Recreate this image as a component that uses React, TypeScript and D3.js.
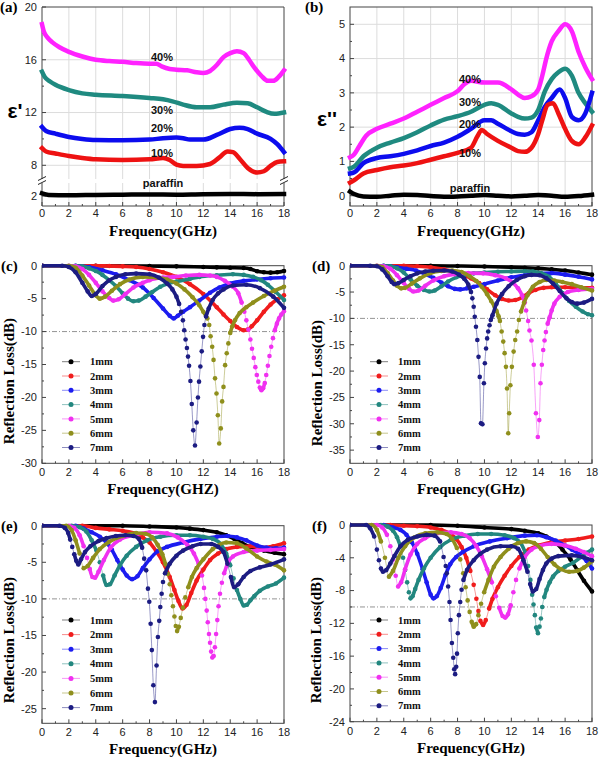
import React from 'react';
import * as d3 from 'd3';

type Pt = [number, number];

// ---------------- ticks & labels ----------------
const FREQ_TICKS = [0, 2, 4, 6, 8, 10, 12, 14, 16, 18];
const EPS1_TICKS_UPPER = [8, 12, 16, 20];
const EPS1_TICKS_LOWER = [2];
const EPS2_TICKS = [0, 1, 2, 3, 4, 5];
const RL_C_TICKS = [0, -5, -10, -15, -20, -25, -30];
const RL_D_TICKS = [0, -5, -10, -15, -20, -25, -30, -35];
const RL_E_TICKS = [0, -5, -10, -15, -20, -25];
const RL_F_TICKS = [0, -4, -8, -12, -16, -20, -24];
const CONTENT_LABELS = ['40%', '30%', '20%', '10%', 'paraffin'];
const THICKNESS_LABELS = ['1mm', '2mm', '3mm', '4mm', '5mm', '6mm', '7mm'];

// ---------------- (a) real permittivity ----------------
const eps1_40: Pt[] = [[0,18.7],[0.15,18.1],[0.4,17.7],[0.8,17.3],[1.3,16.95],[2,16.6],[3,16.25],[4,16.0],[5,15.9],[6,15.85],[7,15.75],[8,15.7],[8.5,15.7],[8.9,15.5],[9.5,15.3],[10,15.25],[10.8,15.2],[11.5,15.05],[12,15.0],[12.5,15.15],[13,15.6],[13.5,16.2],[14,16.5],[14.5,16.65],[15,16.5],[15.4,16.0],[15.8,15.4],[16.3,14.8],[16.8,14.4],[17.2,14.4],[17.6,14.7],[18,15.2]];
const eps1_30: Pt[] = [[0,15.1],[0.2,14.7],[0.6,14.35],[1,14.1],[2,13.7],[3,13.45],[4,13.35],[6,13.25],[8,13.1],[9,13.0],[9.7,12.85],[10.5,12.6],[11.5,12.4],[12.5,12.4],[13.5,12.6],[14.5,12.75],[15.3,12.7],[16,12.4],[16.7,12.05],[17.3,11.9],[18,12.0]];
const eps1_20: Pt[] = [[0,10.9],[0.3,10.6],[1,10.4],[2,10.15],[3,10.0],[4,9.92],[6,9.9],[8,9.95],[9,10.05],[10,10.1],[10.5,10.05],[11,9.95],[12,9.95],[13,10.3],[14,10.75],[14.7,10.85],[15.3,10.75],[16,10.4],[17,10.0],[17.5,9.6],[18,9.0]];
const eps1_10: Pt[] = [[0,9.3],[0.3,9.05],[1,8.9],[2,8.7],[3,8.55],[4,8.45],[6,8.4],[8,8.45],[9,8.55],[9.5,8.4],[10,8.05],[10.5,7.95],[11.5,7.95],[12.5,8.1],[13.2,8.6],[13.8,9.05],[14.2,9.0],[14.7,8.5],[15.3,7.8],[16,7.45],[16.5,7.55],[17,7.95],[17.5,8.25],[18,8.3]];
const eps1_paraffin: Pt[] = [[0,2.2],[0.5,2.08],[2,2.05],[4,2.08],[6,2.1],[8,2.12],[10,2.1],[12,2.14],[14,2.15],[16,2.14],[18,2.15]];

// ---------------- (b) imaginary permittivity ----------------
const eps2_40: Pt[] = [[0,1.12],[0.3,1.2],[0.7,1.45],[1.2,1.75],[2,1.95],[3,2.1],[4,2.25],[5,2.45],[6,2.65],[7,2.85],[8,3.05],[8.5,3.25],[9,3.35],[10,3.3],[11,3.3],[12,3.1],[12.5,2.95],[13,2.85],[13.5,2.9],[14,3.1],[14.3,3.5],[14.6,4.0],[15,4.5],[15.5,4.8],[16,5.0],[16.5,4.8],[17,4.2],[17.5,3.75],[18,3.4]];
const eps2_30: Pt[] = [[0,0.8],[0.3,0.85],[1,1.15],[2,1.4],[3,1.55],[4,1.68],[5,1.85],[6,2.05],[7,2.22],[8,2.32],[9,2.45],[10,2.65],[10.5,2.7],[11,2.65],[12,2.4],[12.5,2.3],[13,2.25],[13.5,2.28],[14,2.5],[14.5,3.05],[15,3.4],[15.5,3.6],[16,3.7],[16.5,3.5],[17,3.0],[17.5,2.7],[18,2.45]];
const eps2_20: Pt[] = [[0,0.65],[0.3,0.68],[1,0.95],[2,1.1],[3,1.15],[4,1.22],[5,1.32],[6,1.45],[7,1.55],[8,1.72],[9,1.95],[10,2.2],[10.5,2.2],[11,2.1],[12,1.88],[12.5,1.8],[13,1.78],[13.5,1.85],[14,2.2],[14.5,2.6],[15,2.85],[15.6,3.1],[16,2.85],[16.5,2.3],[17,2.2],[17.5,2.4],[18,3.0]];
const eps2_10: Pt[] = [[0,0.38],[0.3,0.45],[1,0.65],[2,0.75],[3,0.83],[4,0.88],[5,0.95],[6,1.05],[7,1.15],[8,1.25],[9,1.4],[9.5,1.75],[9.8,1.92],[10.2,1.8],[11,1.6],[12,1.4],[12.5,1.3],[13,1.28],[13.5,1.4],[14,1.8],[14.3,2.2],[14.7,2.65],[15.1,2.7],[15.5,2.4],[16,1.95],[16.5,1.6],[17,1.5],[17.5,1.7],[18,2.05]];
const eps2_paraffin: Pt[] = [[0,0.12],[0.3,0.05],[1,-0.02],[2,-0.03],[3,0.0],[4,0.03],[5,0.02],[6,-0.01],[7,-0.03],[8,-0.02],[9,0.0],[10,0.02],[11,0.0],[12,-0.02],[13,0.0],[14,0.02],[15,0.0],[16,-0.03],[17,-0.01],[18,0.03]];

// ---------------- (c) reflection loss ----------------
const c1: Pt[] = [[0,0],[4,0],[8,-0.05],[10,-0.1],[12,-0.2],[13,-0.25],[14,-0.3],[15,-0.35],[15.5,-0.5],[16,-0.85],[16.5,-1.0],[17,-1.05],[17.5,-1.0],[18,-0.8]];
const c2: Pt[] = [[0,0],[4,0],[5,-0.05],[6,-0.1],[7,-0.2],[8,-0.5],[9,-1.0],[10,-1.7],[11,-2.8],[12,-4.3],[13,-6.3],[13.5,-7.4],[14,-8.4],[14.5,-9.3],[15,-9.8],[15.3,-9.7],[15.6,-9.2],[16,-8.3],[16.5,-7.0],[17,-5.9],[17.5,-5.1],[18,-4.5]];
const c3: Pt[] = [[0,0],[2.5,0],[3.5,-0.2],[4.5,-0.7],[5.5,-1.3],[6.5,-2.2],[7.5,-3.3],[8.3,-4.9],[9,-6.5],[9.5,-7.6],[9.8,-8.0],[10.1,-7.6],[10.5,-7.0],[11,-6.3],[11.7,-5.3],[12.5,-4.1],[13.2,-3.3],[14,-2.7],[15,-2.3],[16,-2.1],[17,-1.9],[18,-1.8]];
const c4: Pt[] = [[0,0],[2.5,0],[3,-0.1],[3.5,-0.4],[4,-0.8],[4.5,-1.4],[5,-2.2],[5.5,-3.1],[6,-4.2],[6.4,-5.0],[6.8,-5.4],[7.2,-5.3],[7.7,-4.7],[8.2,-4.0],[8.8,-3.2],[9.4,-2.7],[10,-2.4],[11,-2.0],[11.7,-1.7],[13,-1.45],[14.2,-1.3],[15,-1.4],[15.7,-1.7],[16.3,-2.2],[16.8,-2.9],[17.4,-4.0],[18,-5.2]];
const c5: Pt[] = [[0,0],[2,0],[2.5,-0.1],[3,-0.5],[3.5,-1.4],[4,-2.6],[4.5,-3.9],[5,-4.9],[5.3,-5.3],[5.7,-5.1],[6.2,-4.3],[6.8,-3.3],[7.5,-2.6],[8,-2.2],[9,-1.8],[9.75,-1.7],[10.7,-1.5],[11.7,-1.4],[12.5,-1.5],[13,-1.7],[13.6,-2.3],[14.2,-3.2],[14.6,-4.2],[14.85,-5.6],[15.05,-7.0],[15.2,-8.3],[15.35,-9.7],[15.5,-11.2],[15.62,-12.6],[15.75,-14.0],[15.87,-15.4],[15.98,-16.6],[16.09,-17.6],[16.2,-18.5],[16.32,-18.9],[16.45,-18.6],[16.57,-17.8],[16.68,-16.6],[16.8,-15.2],[16.92,-13.7],[17.05,-12.3],[17.18,-11.0],[17.32,-9.8],[17.47,-8.8],[17.63,-8.0],[17.8,-7.4],[18,-6.9]];
const c6: Pt[] = [[0,0],[2,0],[2.5,-0.3],[3,-1.5],[3.5,-3.0],[4,-4.5],[4.3,-5.0],[4.7,-4.7],[5.2,-3.8],[5.8,-2.8],[6.5,-2.1],[7.5,-1.7],[8.5,-1.8],[9.3,-2.1],[10,-2.7],[10.6,-3.6],[11.2,-4.8],[11.7,-6.0],[12.0,-7.0],[12.3,-8.0],[12.44,-9.0],[12.54,-10.7],[12.66,-12.3],[12.76,-14.3],[12.87,-17.1],[12.98,-19.4],[13.08,-22.7],[13.18,-27.0],[13.3,-24.7],[13.4,-20.6],[13.5,-18.4],[13.62,-15.1],[13.74,-13.3],[13.86,-11.8],[14.0,-10.2],[14.15,-9.2],[14.35,-8.3],[14.7,-7.2],[15.2,-6.3],[15.7,-5.6],[16.5,-4.6],[17.3,-3.8],[18,-3.2]];
const c7: Pt[] = [[0,0],[1.5,0],[2,-0.2],[2.5,-1.0],[3,-2.6],[3.4,-3.9],[3.7,-4.6],[4.0,-4.3],[4.5,-3.1],[5,-2.2],[5.5,-1.7],[6.2,-1.3],[7,-1.2],[8,-1.3],[8.7,-1.8],[9.3,-2.7],[9.7,-3.6],[10,-4.7],[10.2,-5.8],[10.35,-7.0],[10.48,-8.3],[10.58,-9.8],[10.68,-11.2],[10.78,-12.5],[10.86,-13.8],[10.94,-15.2],[11.04,-17.5],[11.14,-21.0],[11.25,-25.0],[11.38,-27.3],[11.5,-23.8],[11.6,-20.0],[11.68,-17.6],[11.78,-15.3],[11.88,-13.0],[11.98,-10.8],[12.08,-9.0],[12.2,-7.7],[12.4,-6.5],[12.7,-5.2],[13.1,-4.2],[13.5,-3.6],[14.2,-3.0],[15.2,-2.9],[16.2,-3.4],[17.2,-4.7],[18,-6.4]];

// ---------------- (d) reflection loss ----------------
const d1: Pt[] = [[0,0],[6,0],[8,-0.05],[10,-0.15],[12,-0.3],[13,-0.4],[14,-0.5],[15,-0.7],[16,-0.9],[17,-1.3],[18,-1.7]];
const d2: Pt[] = [[0,0],[4,0],[5,-0.1],[6,-0.3],[7,-0.7],[8,-1.3],[9,-2.4],[9.6,-3.3],[10.2,-4.5],[10.8,-5.6],[11.3,-6.3],[11.8,-6.6],[12.3,-6.5],[12.8,-6.0],[13.3,-5.2],[13.8,-4.6],[14.4,-4.2],[15,-4.1],[16,-4.1],[17,-4.2],[18,-4.2]];
const d3s: Pt[] = [[0,0],[2.5,0],[3,-0.1],[3.5,-0.3],[4.2,-0.6],[4.9,-0.9],[5.6,-1.6],[6.2,-2.3],[6.8,-3.2],[7.3,-3.9],[7.8,-4.4],[8.2,-4.5],[8.7,-4.3],[9.2,-4.0],[10,-3.5],[11,-2.8],[12,-2.2],[13,-1.8],[14,-1.5],[15,-1.4],[16,-1.7],[17,-2.1],[18,-2.6]];
const d4: Pt[] = [[0,0],[2.5,0],[3,-0.1],[3.5,-0.5],[4,-1.3],[4.5,-2.6],[5,-3.8],[5.5,-4.6],[5.9,-4.9],[6.3,-4.7],[6.8,-3.9],[7.3,-3.0],[7.9,-2.2],[8.5,-1.7],[9.2,-1.45],[10,-1.3],[11,-1.15],[12,-1.1],[13,-1.05],[13.6,-1.1],[14.2,-1.4],[14.8,-2.1],[15.3,-3.4],[15.8,-5.2],[16.3,-6.7],[16.8,-7.8],[17.3,-8.7],[17.7,-9.2],[18,-9.4]];
const d5: Pt[] = [[0,0],[2,0],[2.5,-0.1],[3,-0.6],[3.5,-1.8],[4,-3.3],[4.4,-4.4],[4.7,-4.9],[5.1,-4.7],[5.6,-3.8],[6.2,-2.8],[7,-2.0],[7.8,-1.6],[8.8,-1.4],[9.9,-1.45],[10.8,-1.8],[11.6,-2.4],[12.1,-3.2],[12.5,-4.3],[12.8,-5.6],[13.0,-7.0],[13.1,-8.5],[13.25,-10.5],[13.35,-12.3],[13.5,-14.2],[13.67,-18.8],[13.83,-28.0],[13.97,-32.5],[14.08,-29.3],[14.17,-22.3],[14.27,-18.8],[14.37,-16.0],[14.47,-14.2],[14.57,-12.6],[14.7,-11.0],[14.85,-9.8],[15.0,-8.5],[15.2,-7.2],[15.6,-5.9],[16.2,-5.0],[17,-4.6],[18,-4.4]];
const d6: Pt[] = [[0,0],[2,0],[2.4,-0.3],[2.8,-1.4],[3.2,-2.8],[3.5,-3.8],[3.8,-4.3],[4.1,-4.2],[4.6,-3.4],[5.2,-2.4],[6,-1.4],[6.8,-1.0],[7.6,-0.9],[8.3,-1.2],[8.9,-2.0],[9.4,-2.9],[9.8,-4.0],[10.2,-5.4],[10.5,-6.7],[10.75,-7.8],[10.9,-8.6],[11.05,-9.6],[11.15,-10.5],[11.28,-12.5],[11.4,-14.4],[11.5,-16.6],[11.6,-19.2],[11.68,-23.3],[11.77,-31.8],[11.84,-28.0],[11.93,-22.7],[12.04,-19.2],[12.17,-16.3],[12.29,-14.1],[12.43,-12.5],[12.56,-10.3],[12.72,-8.7],[12.95,-7.0],[13.2,-5.6],[13.6,-4.0],[14.1,-3.1],[14.6,-2.7],[15.2,-2.8],[15.8,-3.1],[16.5,-3.5],[17.2,-4.1],[18,-4.7]];
const d7: Pt[] = [[0,0],[1.5,0],[2,-0.1],[2.4,-0.7],[2.8,-2.0],[3.1,-3.1],[3.3,-3.5],[3.6,-3.3],[4,-2.7],[4.5,-2.0],[5,-1.45],[5.6,-1.1],[6.2,-0.95],[7,-0.9],[7.6,-1.1],[8.1,-1.7],[8.5,-2.5],[8.8,-3.6],[9.0,-5.0],[9.1,-6.2],[9.2,-7.8],[9.28,-9.7],[9.37,-11.6],[9.47,-14.1],[9.56,-17.3],[9.65,-21.1],[9.74,-29.9],[9.85,-30.1],[9.96,-22.3],[10.03,-18.5],[10.12,-15.7],[10.2,-13.8],[10.28,-12.5],[10.38,-11.3],[10.47,-10.3],[10.6,-9.4],[10.9,-7.2],[11.3,-5.4],[11.8,-3.9],[12.4,-2.7],[13.0,-2.0],[13.5,-1.75],[14.1,-1.8],[14.6,-2.4],[15.1,-3.4],[15.6,-4.8],[16.1,-6.2],[16.5,-6.9],[16.9,-7.2],[17.4,-7.0],[18,-6.3]];

// ---------------- (e) reflection loss ----------------
const e1: Pt[] = [[0,0],[6,0],[8,-0.1],[10,-0.25],[11,-0.4],[12,-0.6],[13,-0.9],[13.7,-1.3],[14.3,-1.8],[14.9,-2.4],[15.5,-2.9],[16.5,-3.4],[17.3,-3.7],[18,-3.9]];
const e2: Pt[] = [[0,0],[3,0],[4,-0.3],[5,-0.5],[6,-0.7],[7,-1.1],[7.5,-1.6],[8,-2.3],[8.5,-3.5],[9,-5.0],[9.5,-7.0],[9.85,-8.8],[10.15,-10.3],[10.45,-11.3],[10.75,-10.8],[11.1,-9.2],[11.5,-7.5],[12,-6.0],[12.5,-4.7],[13.1,-3.8],[13.7,-3.2],[14.5,-2.9],[15.5,-2.8],[16.3,-3.0],[17.2,-2.8],[18,-2.4]];
const e3: Pt[] = [[0,0],[2.5,0],[3.1,-0.4],[3.7,-0.9],[4.3,-1.5],[4.8,-2.3],[5.2,-3.3],[5.6,-4.7],[6.0,-6.0],[6.3,-6.8],[6.7,-7.3],[7.1,-6.9],[7.5,-5.8],[8.0,-4.6],[8.6,-3.5],[9.3,-2.9],[10.5,-2.3],[11.8,-1.8],[13,-1.5],[13.8,-1.4],[14.5,-1.6],[15.2,-2.0],[16,-2.7],[16.7,-3.0],[17.4,-3.1],[18,-3.0]];
const e4: Pt[] = [[0,0],[2.2,0],[2.8,-0.2],[3.3,-0.8],[3.7,-2.0],[4.05,-3.4],[4.3,-5.0],[4.55,-6.8],[4.8,-8.1],[5.05,-8.0],[5.4,-6.8],[5.8,-5.4],[6.3,-4.1],[7,-2.9],[7.8,-2.0],[8.8,-1.5],[10,-1.3],[11,-1.3],[12,-1.5],[12.7,-1.8],[13.3,-2.5],[13.7,-3.8],[14.0,-5.4],[14.25,-7.2],[14.5,-8.8],[14.75,-10.0],[15.0,-10.9],[15.25,-10.8],[15.5,-10.2],[15.8,-9.6],[16.2,-8.9],[16.8,-8.3],[17.4,-7.9],[18,-7.1]];
const e5: Pt[] = [[0,0],[2,0],[2.4,-0.3],[2.8,-1.3],[3.1,-2.8],[3.35,-4.4],[3.55,-5.9],[3.75,-7.0],[3.95,-7.1],[4.2,-6.3],[4.6,-4.7],[5.1,-3.0],[5.8,-1.9],[6.8,-1.3],[8,-0.9],[9.3,-1.05],[10.1,-1.6],[10.8,-2.6],[11.3,-3.8],[11.65,-5.2],[11.9,-6.8],[12.05,-8.5],[12.15,-10.0],[12.25,-11.6],[12.33,-13.2],[12.42,-14.8],[12.5,-16.0],[12.58,-17.2],[12.67,-18.0],[12.77,-17.8],[12.86,-16.6],[12.95,-14.8],[13.04,-12.9],[13.13,-11.0],[13.24,-9.3],[13.38,-7.8],[13.55,-6.5],[13.8,-5.2],[14.2,-4.2],[15,-3.6],[16,-3.4],[17,-3.3],[18,-3.2]];
const e6: Pt[] = [[0,0],[1.8,0],[2.2,-0.6],[2.5,-2.0],[2.8,-3.8],[3.1,-5.8],[3.4,-5.5],[3.8,-4.4],[4.3,-3.2],[5,-2.2],[6,-1.4],[7,-1.0],[7.7,-1.1],[8.2,-1.6],[8.6,-2.6],[8.95,-3.9],[9.2,-5.3],[9.35,-6.6],[9.5,-8.0],[9.62,-9.5],[9.74,-11.0],[9.85,-12.4],[9.95,-13.7],[10.05,-14.4],[10.18,-13.8],[10.32,-12.6],[10.48,-11.2],[10.66,-9.8],[10.88,-8.4],[11.15,-7.0],[11.5,-5.8],[12,-4.6],[12.7,-3.2],[13.7,-2.3],[14.5,-2.4],[15.2,-3.1],[16,-4.2],[16.7,-4.9],[17.3,-5.3],[18,-6.1]];
const e7: Pt[] = [[0,0],[1.3,0],[1.7,-0.3],[1.95,-1.0],[2.1,-1.9],[2.25,-2.9],[2.4,-3.9],[2.55,-4.8],[2.7,-5.3],[2.9,-4.6],[3.2,-3.6],[3.6,-2.8],[4.2,-2.1],[4.8,-1.7],[5.5,-1.4],[6.2,-1.3],[6.8,-1.4],[7.2,-1.8],[7.45,-3.0],[7.6,-4.5],[7.75,-6.1],[7.88,-8.6],[7.98,-10.4],[8.08,-13.4],[8.17,-17.0],[8.28,-21.8],[8.4,-24.1],[8.52,-19.1],[8.62,-15.2],[8.72,-13.0],[8.8,-11.1],[8.9,-9.3],[9.0,-7.7],[9.15,-6.5],[9.5,-5.2],[10,-4.1],[10.5,-3.4],[11.2,-2.8],[11.8,-2.5],[12.6,-2.5],[13.1,-2.9],[13.5,-3.6],[13.8,-5.2],[14.05,-7.0],[14.3,-8.4],[14.6,-8.0],[15,-7.0],[15.5,-6.2],[16.2,-5.7],[17,-5.3],[18,-4.6]];

// ---------------- (f) reflection loss ----------------
const f1: Pt[] = [[0,0],[6,0],[8,-0.1],[10,-0.3],[12,-0.5],[13,-0.7],[14,-1.0],[14.6,-1.4],[15.2,-2.0],[15.8,-3.0],[16.4,-4.2],[16.9,-5.5],[17.4,-6.8],[18,-8.1]];
const f2: Pt[] = [[0,0],[3,0],[4,-0.1],[5,-0.15],[6,-0.3],[6.8,-0.6],[7.4,-1.0],[7.9,-1.7],[8.3,-2.7],[8.65,-4.0],[8.95,-5.6],[9.2,-7.3],[9.4,-9.0],[9.55,-10.5],[9.7,-11.7],[9.9,-12.2],[10.1,-11.6],[10.35,-10.2],[10.6,-9.0],[11,-7.6],[11.5,-6.2],[12,-5.0],[12.6,-3.9],[13.3,-3.0],[14,-2.5],[15,-2.1],[16,-1.9],[17,-1.7],[18,-1.4]];
const f3: Pt[] = [[0,0],[2.5,0],[3.2,-0.3],[3.75,-0.6],[4.2,-1.2],[4.6,-2.1],[5.0,-3.5],[5.4,-5.4],[5.7,-7.0],[6.0,-8.5],[6.2,-8.95],[6.45,-8.7],[6.75,-7.7],[7.1,-6.1],[7.45,-4.8],[7.9,-3.9],[8.4,-3.3],[9.2,-2.6],[10.4,-2.0],[11.7,-1.6],[13,-1.3],[13.9,-1.25],[14.6,-1.5],[15.3,-1.9],[16,-2.5],[16.5,-3.0],[17.1,-3.6],[17.6,-4.4],[18,-5.3]];
const f4: Pt[] = [[0,0],[2.3,0],[2.8,-0.2],[3.2,-0.7],[3.5,-1.5],[3.75,-2.6],[3.95,-4.0],[4.1,-5.5],[4.25,-7.0],[4.38,-8.2],[4.5,-8.95],[4.65,-8.7],[4.85,-7.8],[5.1,-6.7],[5.5,-5.3],[6,-4.0],[6.7,-2.7],[7.5,-1.8],[8.5,-1.3],[9.5,-1.1],[10.5,-1.1],[11.5,-1.25],[12.2,-1.6],[12.7,-2.2],[13.05,-3.4],[13.25,-5.0],[13.42,-6.7],[13.55,-8.5],[13.65,-9.7],[13.75,-11.0],[13.85,-12.5],[13.98,-13.2],[14.1,-12.4],[14.2,-11.4],[14.3,-10.0],[14.45,-8.8],[14.62,-7.9],[14.85,-7.0],[15.1,-6.3],[15.5,-5.6],[16,-5.1],[16.6,-4.6],[17.2,-3.9],[17.6,-3.4],[18,-3.0]];
const f5: Pt[] = [[0,0],[2,0],[2.4,-0.3],[2.75,-1.2],[3.0,-2.6],[3.2,-4.2],[3.4,-6.2],[3.58,-7.5],[3.8,-7.0],[4.1,-5.4],[4.5,-3.6],[5,-2.3],[5.6,-1.6],[6.5,-1.0],[7.5,-0.9],[8.3,-1.1],[8.9,-1.6],[9.4,-2.6],[9.8,-3.8],[10.2,-5.4],[10.55,-7.0],[10.85,-8.7],[11.1,-10.1],[11.35,-11.1],[11.55,-11.3],[11.75,-10.9],[11.95,-9.8],[12.15,-8.2],[12.35,-6.7],[12.6,-5.3],[13,-3.9],[13.5,-3.0],[14,-2.6],[15,-2.3],[16,-2.5],[16.8,-2.9],[17.4,-3.3],[18,-3.8]];
const f6: Pt[] = [[0,0],[1.6,0],[2.0,-0.6],[2.3,-2.0],[2.6,-4.0],[2.9,-6.3],[3.2,-5.6],[3.6,-4.0],[4.1,-2.6],[4.8,-1.5],[5.6,-1.0],[6.5,-0.9],[7.2,-1.1],[7.6,-1.7],[7.95,-2.8],[8.2,-4.2],[8.42,-5.9],[8.6,-7.6],[8.75,-9.2],[8.9,-10.6],[9.05,-11.8],[9.2,-12.4],[9.38,-12.1],[9.55,-11.0],[9.75,-9.6],[9.98,-8.2],[10.3,-6.7],[10.7,-5.1],[11.2,-3.9],[11.8,-2.9],[12.5,-2.2],[13.1,-2.0],[13.7,-2.2],[14.2,-2.9],[14.7,-3.9],[15.2,-4.8],[15.7,-5.4],[16.3,-5.7],[16.9,-5.6],[17.4,-5.2],[18,-4.4]];
const f7: Pt[] = [[0,0],[1.2,0],[1.5,-0.4],[1.8,-1.4],[2.0,-3.0],[2.15,-4.3],[2.3,-5.3],[2.45,-5.7],[2.7,-5.5],[3.0,-4.7],[3.3,-3.8],[3.75,-2.6],[4.3,-1.8],[5,-1.4],[5.7,-1.2],[6.3,-1.3],[6.7,-2.0],[6.96,-3.9],[7.12,-5.0],[7.2,-5.9],[7.3,-7.5],[7.4,-9.4],[7.48,-11.6],[7.58,-14.4],[7.68,-16.2],[7.75,-17.6],[7.82,-18.2],[7.9,-17.3],[7.96,-15.7],[8.02,-13.2],[8.1,-11.0],[8.2,-9.4],[8.3,-7.9],[8.44,-6.7],[8.7,-5.5],[9.2,-4.3],[9.7,-3.5],[10.2,-3.0],[11.2,-2.6],[12.0,-2.6],[12.5,-2.9],[12.9,-4.3],[13.2,-5.7],[13.4,-7.2],[13.6,-8.1],[13.85,-7.8],[14.1,-6.6],[14.35,-5.5],[14.6,-4.7],[15.0,-4.1],[15.5,-3.8],[16.5,-3.7],[17.3,-3.9],[18,-4.3]];

// ---------------- styling ----------------
const EPS_COLORS = ['#ff22ff', '#1f8a80', '#0c0cee', '#ee1212', '#000000'];
const RL_COLORS = ['#000000', '#f01c1c', '#1c1cf0', '#22877f', '#f030f0', '#8f8f1c', '#1c1c82'];
const SERIF = "'Liberation Serif','Times New Roman',serif";
const SANS = "'Liberation Sans',Arial,sans-serif";
const AXIS = '#444';
const TICK_TXT = '#222';

const line = d3.line<[number, number]>().curve(d3.curveMonotoneX);

function Ticks({ x, y, x0, x1, y0, y1, yTicks, yMinor, xLabelY }: any) {
  const xMinor = d3.range(1, 18, 2);
  return (
    <g>
      {FREQ_TICKS.map((t) => (
        <g key={'x' + t}>
          <line x1={x(t)} x2={x(t)} y1={y1} y2={y1 - 4} stroke={AXIS} />
          <text x={x(t)} y={xLabelY} textAnchor="middle" fontFamily={SANS} fontSize={11} fill={TICK_TXT}>{t}</text>
        </g>
      ))}
      {xMinor.map((t: number) => (
        <line key={'xm' + t} x1={x(t)} x2={x(t)} y1={y1} y2={y1 - 2} stroke={AXIS} />
      ))}
      {yTicks.map((t: number) => (
        <g key={'y' + t}>
          <line x1={x0} x2={x0 + 4} y1={y(t)} y2={y(t)} stroke={AXIS} />
          <text x={x0 - 5} y={y(t)} dy="0.35em" textAnchor="end" fontFamily={SANS} fontSize={11} fill={TICK_TXT}>{t}</text>
        </g>
      ))}
      {(yMinor || []).map((t: number) => (
        <line key={'ym' + t} x1={x0} x2={x0 + 2} y1={y(t)} y2={y(t)} stroke={AXIS} />
      ))}
    </g>
  );
}

function PanelA() {
  const x0 = 42, x1 = 284, y0 = 7, y1 = 206;
  const x = d3.scaleLinear().domain([0, 18]).range([x0, x1]);
  const yUp = d3.scaleLinear().domain([20, 8]).range([y0, 165.3]);
  const yLow = d3.scaleLinear().domain([2, 1.25]).range([196, y1]);
  const y = (v: number) => (v > 5 ? yUp(v) : yLow(v));
  const series = [eps1_40, eps1_30, eps1_20, eps1_10, eps1_paraffin];
  const labelPos = [[162, 57], [162, 110], [162, 128], [162, 153], [163, 183]];
  const brk = [179, 183];
  return (
    <g>
      {FREQ_TICKS.slice(1, -1).map((t) => (
        <line key={'g' + t} x1={x(t)} x2={x(t)} y1={y0} y2={y1} stroke="#dcdcdc" />
      ))}
      {[16, 12, 8].map((t) => (
        <line key={'h' + t} x1={x0} x2={x1} y1={y(t)} y2={y(t)} stroke="#dcdcdc" />
      ))}
      <rect x={x0 - 6} y={brk[0]} width={x1 - x0 + 12} height={brk[1] - brk[0]} fill="#fff" />
      <line x1={x0} x2={x1} y1={y0} y2={y0} stroke={AXIS} />
      <line x1={x0} x2={x1} y1={y1} y2={y1} stroke={AXIS} />
      <line x1={x0} x2={x0} y1={y0} y2={brk[0]} stroke={AXIS} />
      <line x1={x0} x2={x0} y1={brk[1]} y2={y1} stroke={AXIS} />
      <line x1={x1} x2={x1} y1={y0} y2={brk[0]} stroke={AXIS} />
      <line x1={x1} x2={x1} y1={brk[1]} y2={y1} stroke={AXIS} />
      {[x0, x1].map((bx) => (
        <g key={'b' + bx}>
          <line x1={bx - 4} x2={bx + 4} y1={brk[0] + 1.5} y2={brk[0] - 2.5} stroke="#222" />
          <line x1={bx - 4} x2={bx + 4} y1={brk[1] + 1.5} y2={brk[1] - 2.5} stroke="#222" />
        </g>
      ))}
      <Ticks x={x} y={y} x0={x0} x1={x1} y0={y0} y1={y1} yTicks={[...EPS1_TICKS_UPPER, ...EPS1_TICKS_LOWER]} yMinor={[10, 14, 18]} xLabelY={217} />
      {series.map((s, i) => (
        <path key={i} d={line(s.map(([f, v]) => [x(f), y(v)]) as any) || ''} fill="none" stroke={EPS_COLORS[i]} strokeWidth={4.5} strokeLinejoin="round" strokeLinecap="square" />
      ))}
      {CONTENT_LABELS.map((l, i) => (
        <text key={l} x={labelPos[i][0]} y={labelPos[i][1]} dy="0.35em" textAnchor="middle" fontFamily={SANS} fontWeight="bold" fontSize={11} fill="#111">{l}</text>
      ))}
      <text x={15} y={118} textAnchor="middle" fontFamily={SANS} fontWeight="bold" fontSize={21} fill="#000">ε'</text>
      <text x={0} y={12} fontFamily={SERIF} fontWeight="bold" fontSize={15} fill="#000">(a)</text>
      <text x={(x0 + x1) / 2} y={236} textAnchor="middle" fontFamily={SERIF} fontWeight="bold" fontSize={15} fill="#000">Frequency(GHz)</text>
    </g>
  );
}

function PanelB() {
  const x0 = 350, x1 = 592, y0 = 7, y1 = 206;
  const x = d3.scaleLinear().domain([0, 18]).range([x0, x1]);
  const y = d3.scaleLinear().domain([0, 5]).range([195.7, 24.3]);
  const series = [eps2_40, eps2_30, eps2_20, eps2_10, eps2_paraffin];
  const labelPos = [[470, 79], [470, 102], [470, 124], [470, 153], [470, 188]];
  return (
    <g>
      {FREQ_TICKS.slice(1, -1).map((t) => (
        <line key={'g' + t} x1={x(t)} x2={x(t)} y1={y0} y2={y1} stroke="#dcdcdc" />
      ))}
      {EPS2_TICKS.map((t) => (
        <line key={'h' + t} x1={x0} x2={x1} y1={y(t)} y2={y(t)} stroke="#dcdcdc" />
      ))}
      <rect x={x0} y={y0} width={x1 - x0} height={y1 - y0} fill="none" stroke={AXIS} />
      <Ticks x={x} y={y} x0={x0} x1={x1} y0={y0} y1={y1} yTicks={EPS2_TICKS} yMinor={[0.5, 1.5, 2.5, 3.5, 4.5]} xLabelY={217} />
      {series.map((s, i) => (
        <path key={i} d={line(s.map(([f, v]) => [x(f), y(v)]) as any) || ''} fill="none" stroke={EPS_COLORS[i]} strokeWidth={4.5} strokeLinejoin="round" strokeLinecap="square" />
      ))}
      {CONTENT_LABELS.map((l, i) => (
        <text key={l} x={labelPos[i][0]} y={labelPos[i][1]} dy="0.35em" textAnchor="middle" fontFamily={SANS} fontWeight="bold" fontSize={11} fill="#111">{l}</text>
      ))}
      <text x={327} y={126} textAnchor="middle" fontFamily={SANS} fontWeight="bold" fontSize={21} fill="#000">ε''</text>
      <text x={305} y={12} fontFamily={SERIF} fontWeight="bold" fontSize={15} fill="#000">(b)</text>
      <text x={(x0 + x1) / 2} y={236} textAnchor="middle" fontFamily={SERIF} fontWeight="bold" fontSize={15} fill="#000">Frequency(GHz)</text>
    </g>
  );
}

function RLSeries({ pts, x, y, color }: any) {
  const px: [number, number][] = pts.map(([f, v]: Pt) => [x(f), y(v)]);
  const runs: [number, number][][] = [];
  let cur: [number, number][] = [px[0]];
  for (let i = 1; i < px.length; i++) {
    const dx = Math.abs(px[i][0] - px[i - 1][0]);
    const dy = Math.abs(px[i][1] - px[i - 1][1]);
    if (dy <= 3.2 * dx + 0.5) cur.push(px[i]);
    else {
      if (cur.length > 1) runs.push(cur);
      cur = [px[i]];
    }
  }
  if (cur.length > 1) runs.push(cur);
  return (
    <g>
      <path d={line(px) || ''} fill="none" stroke={color} strokeOpacity={0.45} strokeWidth={1} />
      {runs.map((r, i) => (
        <path key={i} d={line(r) || ''} fill="none" stroke={color} strokeWidth={3.6} strokeLinejoin="round" strokeLinecap="round" />
      ))}
      {px.map((p, i) => (
        <circle key={i} cx={p[0]} cy={p[1]} r={2.3} fill={color} />
      ))}
    </g>
  );
}

interface RLCfg {
  x0: number; x1: number; y0: number; y1: number; yMin: number;
  ticks: number[]; minorStep: number; series: Pt[][];
  label: string; labelX: number; labelY: number; xTitle: string;
  yTitleX: number; yTitleY: number; legendY: number; legendStep: number;
}

function RLPanel({ c }: { c: RLCfg }) {
  const x = d3.scaleLinear().domain([0, 18]).range([c.x0, c.x1]);
  const y = d3.scaleLinear().domain([c.yMin, 0]).range([c.y1, c.y0]);
  const minor = c.ticks.slice(0, -1).map((t) => t - c.minorStep);
  const lx = c.x0 + 20;
  return (
    <g>
      <line x1={c.x0} x2={c.x1} y1={y(-10)} y2={y(-10)} stroke="#888" strokeWidth={0.9} strokeDasharray="5,2,1,2" />
      <rect x={c.x0} y={c.y0} width={c.x1 - c.x0} height={c.y1 - c.y0} fill="none" stroke={AXIS} />
      <Ticks x={x} y={y} x0={c.x0} x1={c.x1} y0={c.y0} y1={c.y1} yTicks={c.ticks} yMinor={minor} xLabelY={c.y1 + 13} />
      <svg x={c.x0} y={c.y0 - 3} width={c.x1 - c.x0 + 3} height={c.y1 - c.y0 + 3} overflow="hidden">
        <g transform={`translate(${-c.x0},${-(c.y0 - 3)})`}>
          {c.series.map((s, i) => (
            <RLSeries key={i} pts={s} x={x} y={y} color={RL_COLORS[i]} />
          ))}
        </g>
      </svg>
      {THICKNESS_LABELS.map((l, i) => {
        const ly = c.legendY + i * c.legendStep;
        return (
          <g key={l}>
            <line x1={lx} x2={lx + 18} y1={ly} y2={ly} stroke={RL_COLORS[i]} strokeOpacity={0.5} />
            <circle cx={lx + 9} cy={ly} r={2.5} fill={RL_COLORS[i]} />
            <text x={lx + 28} y={ly} dy="0.35em" fontFamily={SERIF} fontWeight="bold" fontSize={10.5} fill="#111">{l}</text>
          </g>
        );
      })}
      <text x={c.labelX} y={c.labelY} fontFamily={SERIF} fontWeight="bold" fontSize={15} fill="#000">{c.label}</text>
      <text x={(c.x0 + c.x1) / 2} y={c.y1 + 31} textAnchor="middle" fontFamily={SERIF} fontWeight="bold" fontSize={15} fill="#000">{c.xTitle}</text>
      <text transform={`translate(${c.yTitleX},${c.yTitleY}) rotate(-90)`} textAnchor="middle" dy="0.35em" fontFamily={SERIF} fontWeight="bold" fontSize={15} fill="#000">Reflection Loss(dB)</text>
    </g>
  );
}

const RL_PANELS: RLCfg[] = [
  { x0: 42, x1: 284, y0: 265.7, y1: 463.3, yMin: -30, ticks: RL_C_TICKS, minorStep: 2.5, series: [c1, c2, c3, c4, c5, c6, c7], label: '(c)', labelX: 1, labelY: 271, xTitle: 'Frequency(GHZ)', yTitleX: 9, yTitleY: 381, legendY: 361.7, legendStep: 14.3 },
  { x0: 350, x1: 592, y0: 265.7, y1: 463.3, yMin: -37.5, ticks: RL_D_TICKS, minorStep: 2.5, series: [d1, d2, d3s, d4, d5, d6, d7], label: '(d)', labelX: 312, labelY: 271, xTitle: 'Frequency(GHz)', yTitleX: 317, yTitleY: 383, legendY: 361.7, legendStep: 14.3 },
  { x0: 42, x1: 284, y0: 525.7, y1: 723.3, yMin: -27, ticks: RL_E_TICKS, minorStep: 2.5, series: [e1, e2, e3, e4, e5, e6, e7], label: '(e)', labelX: 1, labelY: 531, xTitle: 'Frequency(GHz)', yTitleX: 9, yTitleY: 640, legendY: 620, legendStep: 14.6 },
  { x0: 350, x1: 592, y0: 525, y1: 721.7, yMin: -24, ticks: RL_F_TICKS, minorStep: 2, series: [f1, f2, f3, f4, f5, f6, f7], label: '(f)', labelX: 312, labelY: 531, xTitle: 'Frequency(GHz)', yTitleX: 316, yTitleY: 640, legendY: 620, legendStep: 14.3 },
];

export default function App() {
  return (
    <div style={{ position: 'absolute', left: 0, top: 0, width: 600, height: 759, background: '#fff' }}>
      <svg width={600} height={759} viewBox="0 0 600 759" style={{ display: 'block' }}>
        <rect width={600} height={759} fill="#fff" />
        <PanelA />
        <PanelB />
        {RL_PANELS.map((c) => (
          <RLPanel key={c.label} c={c} />
        ))}
      </svg>
    </div>
  );
}
